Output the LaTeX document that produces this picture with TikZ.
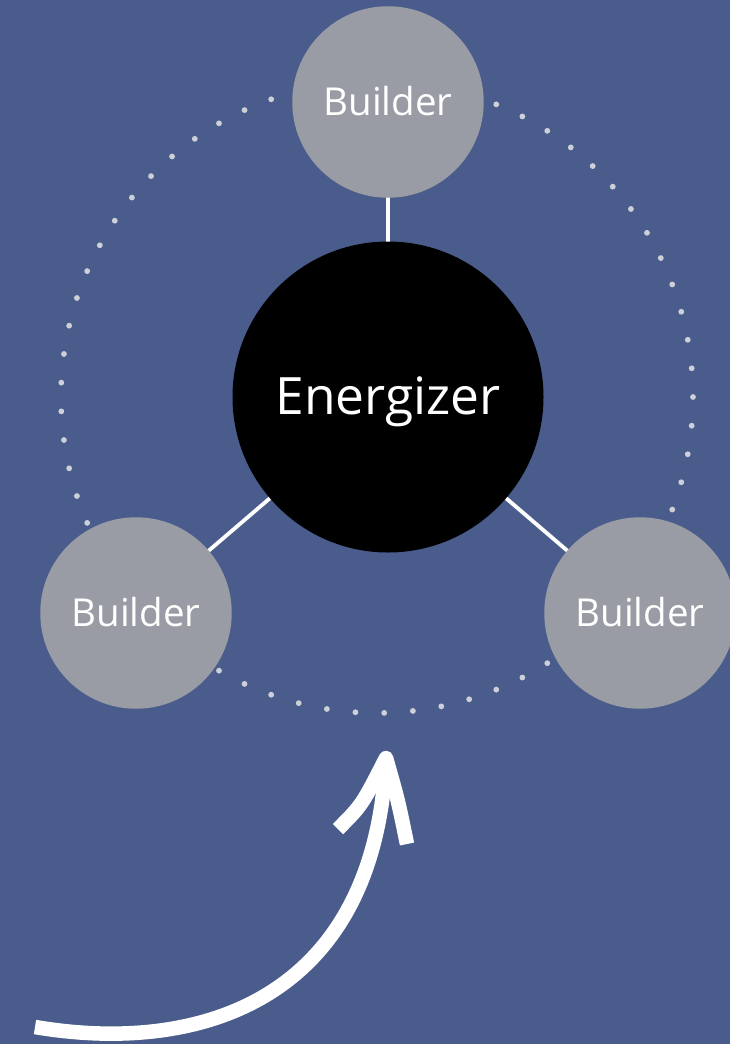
\documentclass[tikz,border=0pt]{standalone}
\usepackage{fontspec}
\setmainfont{Open Sans}
\usetikzlibrary{calc}
\definecolor{bgc}{HTML}{4A5C8C}
\definecolor{grayc}{HTML}{999CA4}
\definecolor{dotc}{HTML}{CDD0D8}
\tikzset{
  builder/.style={circle, fill=grayc, minimum size=191.5pt, inner sep=0pt},
  energ/.style={circle, fill=black, minimum size=311pt, inner sep=0pt},
  btext/.style={text=white, anchor=base, font=\fontsize{38.5}{42}\selectfont},
  etext/.style={text=white, anchor=base, font=\fontsize{51.5}{56}\selectfont},
  link/.style={draw=white, line width=3.8pt},
  bigarrow/.style={draw=white, line width=14.5pt, line join=round},
}
\begin{document}
\begin{tikzpicture}[x=1pt,y=-1pt]
\fill[bgc] (0,0) rectangle (730,1044);
\useasboundingbox (0,0) rectangle (730,1044);
\coordinate (C) at (377,397);
\foreach \k in {0,...,68} {
  \pgfmathsetmacro{\ang}{\k*5.21739}
  \fill[dotc] ($(C)+(\ang:316)$) circle (2.9pt);
}
\coordinate (eC) at (388,397);
\coordinate (tC) at (388,102);
\coordinate (lC) at (136,613);
\coordinate (rC) at (640,613);
\draw[link] (eC) -- (tC);
\draw[link] (eC) -- (lC);
\draw[link] (eC) -- (rC);
\node[energ] (en) at (eC) {};
\node[builder] (bt) at (tC) {};
\node[builder] (bl) at (lC) {};
\node[builder] (br) at (rC) {};
\node[etext] (ent) at (388,414) {Energizer};
\node[btext] (btt) at (388,115) {Builder};
\node[btext] (blt) at (136,626) {Builder};
\node[btext] (brt) at (640,626) {Builder};
\coordinate (aS) at (35,1027);
\coordinate (aT) at (386,758);
\coordinate (aL) at (338,829);
\coordinate (aR) at (407,844);
\draw[bigarrow] (aS) .. controls (200,1055) and (375,1000) .. (aT);
\draw[bigarrow] (aL) .. controls (362,805) .. (aT) .. controls (398,800) .. (aR);
\end{tikzpicture}
\end{document}
